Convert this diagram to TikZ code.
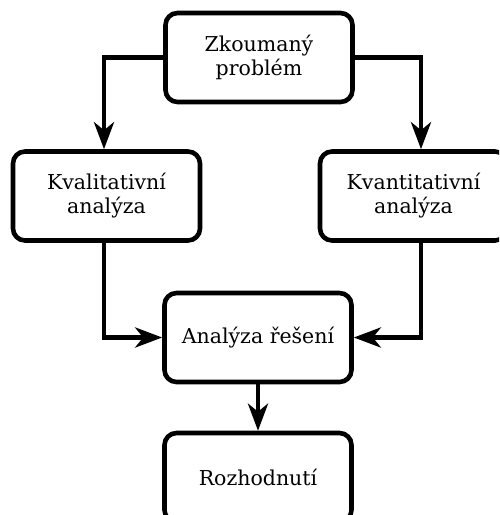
\documentclass[tikz,border=0pt]{standalone}
\usepackage{fontspec}
\setmainfont{DejaVu Serif}
\usetikzlibrary{arrows.meta}
\begin{document}
\begin{tikzpicture}[x=1pt,y=-1pt,
  box/.style={draw, line width=4.6pt, rounded corners=12pt, minimum width=187pt,
    minimum height=89pt, inner sep=0pt, align=center,
    font=\fontsize{20.5pt}{24pt}\selectfont},
  flow/.style={line width=4.6pt, line join=miter,
    -{Stealth[length=27pt, width=20pt, inset=8pt]}}]
  \clip (0,0) rectangle (499,515);
  \node[box] (prob) at (259,57.5) {Zkoumaný\\problém};
  \node[box] (qual) at (106.5,196) {Kvalitativní\\analýza};
  \node[box] (quant) at (413.5,196) {Kvantitativní\\analýza};
  \node[box] (sol) at (258,337.5) {Analýza řešení};
  \node[box] (dec) at (258,477.5) {Rozhodnutí};
  \draw[flow] (prob.west) -| ([xshift=-2.5pt]qual.north);
  \draw[flow] (prob.east) -| ([xshift=7.5pt]quant.north);
  \draw[flow] ([xshift=-2.5pt]qual.south) |- (sol.west);
  \draw[flow] ([xshift=7.5pt]quant.south) |- (sol.east);
  \draw[flow] (sol.south) -- (dec.north);
\end{tikzpicture}
\end{document}
